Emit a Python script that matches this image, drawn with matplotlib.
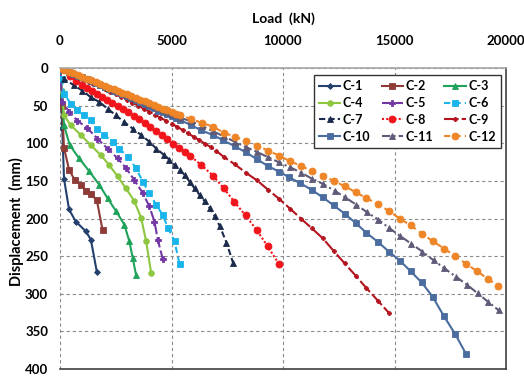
import matplotlib
matplotlib.use("Agg")
import matplotlib.pyplot as plt

plt.rcParams['font.family'] = ['Lato', 'DejaVu Sans']
plt.rcParams['font.weight'] = 'bold'

# ---- data (load kN, displacement mm) ----
c1_load = [0, 100, 180, 405, 707, 1158, 1383, 1653]
c1_disp = [0, 80, 147, 188, 204, 217, 228, 271]

c2_load = [0, 90, 180, 405, 662, 932, 1185, 1410, 1653, 1906]
c2_disp = [0, 50, 106, 135, 149, 155, 163, 168, 176, 215]

c3_load = [0, 90, 180, 437, 856, 1306, 1757, 2131, 2509, 2883, 3108, 3257, 3410]
c3_disp = [0, 35, 76, 102.5, 120, 137, 155, 173, 190, 208, 230, 252, 275]

c4_load = [0, 90, 180, 482, 932, 1383, 1834, 2207, 2581, 2960, 3334, 3636, 3861, 4086]
c4_disp = [0, 30, 63, 76, 89, 102.5, 116, 129, 144, 160, 177, 199, 230, 272]

c5_load = [0, 104, 405, 779, 1230, 1680, 2131, 2581, 2960, 3334, 3708, 4009, 4235, 4383, 4608]
c5_disp = [0, 45, 58, 70, 80, 94, 107, 120, 133, 149, 166, 184, 204, 228, 254]

c6_load = [0, 90, 180, 482, 779, 1081, 1383, 1680, 1982, 2356, 2658, 3032, 3410, 3708,
           4009, 4311, 4608, 4834, 5136, 5361]
c6_disp = [0, 15, 34, 47.5, 56, 63, 69.5, 80.5, 89, 98, 107, 118, 133, 151,
           166, 182, 195, 212, 230, 261]

c7_load = [0, 180, 631, 1005, 1383, 1757, 2131, 2509, 2883, 3257, 3636, 4009, 4311, 4685,
           4910, 5136, 5361, 5586, 5811, 6037, 6262, 6487, 6713, 6938, 7163, 7465, 7762]
c7_disp = [0, 14.5, 23, 30, 39, 45, 54, 63, 72, 80.5, 89, 98, 107, 116,
           122, 129, 135.5, 142, 151, 160, 168.5, 177, 186, 197, 210, 232, 259]

c8_load = [0, 464, 734, 991, 1216, 1442, 1667, 1892, 2117, 2343, 2600, 2838, 3063, 3320,
           3545, 3800, 4050, 4300, 4560, 4820, 5080, 5340, 5600, 5850, 6338, 6861, 7343,
           7825, 8320, 8816, 9311, 9807]
c8_disp = [0, 10.6, 17, 22.4, 26, 30, 34, 38, 42, 46, 50, 54, 58, 64,
           68, 73, 78.5, 84, 89.5, 95, 100.5, 106, 111.5, 117, 129, 143, 160,
           178, 196, 215, 237, 260]

c9_load = [0, 250, 500, 750, 1000, 1250, 1500, 1750, 2000, 2250, 2500, 2750, 3000, 3250,
           3500, 3750, 4000, 4250, 4500, 4750, 5000, 5250, 5500, 5750, 6000, 6250, 6500,
           6750, 7000, 7340, 7840, 8330, 8840, 9340, 9830, 10320, 10800, 11290, 11790,
           12270, 12760, 13260, 13740, 14250, 14750]
c9_disp = [0, 3.5, 7, 10.5, 14, 17.5, 21, 24.5, 28, 31.5, 35, 38.5, 42, 46,
           50, 54, 58, 62, 66, 70, 74, 78, 82.5, 87, 91.5, 96, 100.5,
           105, 110, 118, 128, 139, 149.5, 162, 174, 187, 200, 213, 226.5,
           243, 259.5, 276, 292.5, 309, 325.5]

c10_load = [0, 200, 400, 600, 800, 1000, 1200, 1400, 1600, 1800, 2000, 2200, 2400, 2600,
            2800, 3000, 3200, 3400, 3600, 3800, 4000, 4200, 4400, 4600, 4800, 5000, 5200,
            5400, 5890, 6340, 6860, 7310, 7840, 8330, 8820, 9310, 9810, 10290, 10770,
            11290, 11790, 12270, 12760, 13260, 13740, 14250, 14750, 15240, 15720, 16220,
            16710, 17200, 17710, 18200]
c10_disp = [0, 2.5, 5, 7.5, 10, 12.5, 15, 17.5, 20, 22.5, 25, 27.5, 30, 32.5,
            35, 37.5, 40, 42.5, 45, 47.5, 50.5, 53.5, 56.5, 59, 61.5, 64, 66.5,
            69.5, 76, 83, 89, 96, 104, 112, 121, 130, 137.6, 145.5, 153,
            162, 172, 182.5, 193.5, 206, 219, 231, 244, 256, 270, 285,
            304, 329, 353, 379.5]

c11_load = [0, 200, 400, 600, 800, 1000, 1200, 1400, 1600, 1800, 2000, 2200, 2400, 2600,
            2800, 3000, 3200, 3400, 3600, 3800, 4000, 4200, 4400, 4600, 4800, 5000, 5200,
            5400, 5880, 6370, 6860, 7350, 7840, 8330, 8830, 9330, 9830, 10320, 10810,
            11290, 11790, 12310, 12790, 13290, 13770, 14270, 14750, 15240, 15750, 16250,
            16750, 17230, 17750, 18250, 18730, 19210, 19670]
c11_disp = [0, 2.5, 5, 7, 9.5, 12, 14.5, 17, 19, 21.5, 24, 26.5, 29, 31,
            33.5, 36, 38.5, 41, 43, 45.5, 48, 50.5, 53, 55.5, 58, 60.5, 63,
            66, 71, 77, 84, 91, 98, 105, 111.5, 118.5, 125.5, 132, 139,
            147, 154, 163, 172, 181.7, 191.7, 201.5, 212.4, 223, 233.5, 244,
            255.5, 266, 277.4, 288, 299.5, 311, 322]

c12_load = [0, 200, 400, 600, 800, 1000, 1200, 1400, 1600, 1800, 2000, 2200, 2400, 2600,
            2800, 3000, 3200, 3400, 3600, 3800, 4000, 4200, 4400, 4600, 4800, 5000, 5200,
            5400, 5870, 6360, 6860, 7350, 7850, 8340, 8840, 9340, 9830, 10320, 10800,
            11290, 11790, 12270, 12760, 13260, 13740, 14250, 14750, 15230, 15720, 16220,
            16710, 17230, 17710, 18200, 18700, 19180, 19660]
c12_disp = [0, 2.5, 5, 7, 9.5, 12, 14, 16.5, 19, 21, 23.5, 26, 28, 30.5,
            33, 35, 37.5, 40, 42, 44.5, 47, 49, 51.5, 54, 56, 58.5, 61,
            63, 67.5, 73, 78, 86, 91.5, 97, 103, 110, 116.5, 124, 130,
            137, 143, 150, 157, 165, 173, 181, 190, 200, 209, 220,
            230, 240, 250, 260, 270, 280, 290]

labels = ['C-1', 'C-2', 'C-3', 'C-4', 'C-5', 'C-6', 'C-7', 'C-8', 'C-9', 'C-10', 'C-11', 'C-12']
loads = [c1_load, c2_load, c3_load, c4_load, c5_load, c6_load, c7_load, c8_load,
         c9_load, c10_load, c11_load, c12_load]
disps = [c1_disp, c2_disp, c3_disp, c4_disp, c5_disp, c6_disp, c7_disp, c8_disp,
         c9_disp, c10_disp, c11_disp, c12_disp]

colors = ['#24406E', '#8E3A37', '#1FA25A', '#8DC63F', '#7336A5', '#19B4EA',
          '#1B2A4A', '#F2141B', '#B4141E', '#4A6C9E', '#5E5A78', '#EE8527']
markers = ['D', 's', '^', 'o', 'P', 's', '^', 'o', 'P', 's', '^', 'o']
msizes = [3, 4, 4, 4, 4, 4.5, 4.5, 5, 3, 5, 4, 5]
styles = ['-', '-', '-', '-', (0, (5, 1.5)), (0, (3, 2)), (0, (3, 1.5)), (0, (1, 1)),
          (0, (7, 1.5)), '-', (0, (4, 1.5, 1, 1.5)), (0, (3, 2))]

fig = plt.figure(figsize=(5.24, 3.76), dpi=100)
ax = fig.add_axes([60 / 524, 1 - 369 / 376, (506 - 60) / 524, (369 - 68) / 376])

handles = []
for i in range(12):
    h, = ax.plot(loads[i], disps[i], color=colors[i], linestyle=styles[i], linewidth=1.5,
                 marker=markers[i], markersize=msizes[i], markeredgewidth=0.6,
                 markerfacecolor=colors[i], markeredgecolor=colors[i], label=labels[i])
    handles.append(h)

ax.set_xlim(0, 20000)
ax.set_ylim(400, 0)
ax.set_xticks([0, 5000, 10000, 15000, 20000])
ax.set_yticks(range(0, 401, 50))
ax.xaxis.tick_top()
ax.xaxis.set_label_position('top')
ax.tick_params(axis='both', length=0, labelsize=9.5)
ax.tick_params(axis='x', pad=15)
ax.tick_params(axis='y', pad=8.5)
for lab in ax.get_xticklabels() + ax.get_yticklabels():
    lab.set_fontweight('bold')

ax.grid(True, color='#8C8C8C', linestyle=(0, (3, 2.5)), linewidth=0.8)
ax.set_axisbelow(True)
ax.spines['left'].set_visible(False)
ax.spines['top'].set_color('#A6A6A6')
ax.spines['top'].set_linewidth(1.2)
ax.spines['bottom'].set_color('#404040')
ax.spines['right'].set_color('#404040')
ax.spines['bottom'].set_linewidth(1.2)
ax.spines['right'].set_linewidth(1.2)

ax.set_xlabel('Load  (kN)', fontsize=10, fontweight='bold', labelpad=9)
ax.set_ylabel('Displacement  (mm)', fontsize=10.5, fontweight='bold')
ax.yaxis.set_label_coords(-0.081, 0.49)

# row-wise legend order for 3 columns
order = [0, 3, 6, 9, 1, 4, 7, 10, 2, 5, 8, 11]
leg = ax.legend([handles[k] for k in order], [labels[k] for k in order], ncol=3,
                loc='upper right', bbox_to_anchor=(0.994, 0.984), fontsize=9,
                frameon=True, fancybox=False, edgecolor='#333333', framealpha=1,
                handlelength=1.7, columnspacing=0.9, handletextpad=0.2,
                labelspacing=0.38, borderpad=0.4, borderaxespad=0.2)
leg.get_frame().set_linewidth(1.0)
for t in leg.get_texts():
    t.set_fontweight('bold')

fig.savefig('out.png', dpi=100)
